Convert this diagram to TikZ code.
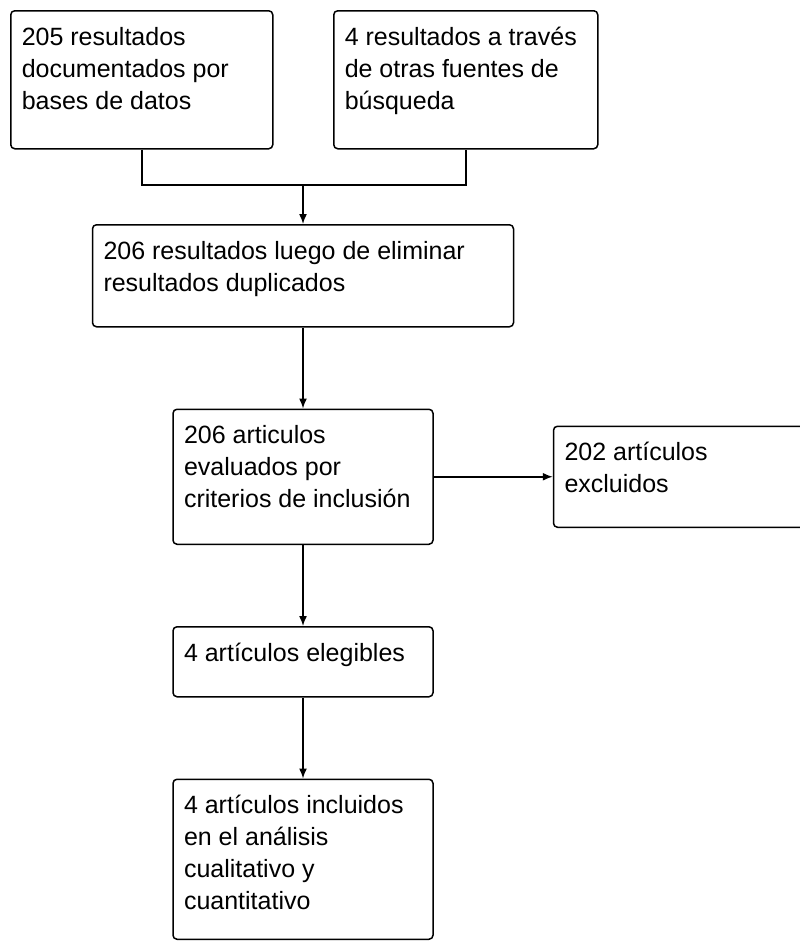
\documentclass[tikz,border=0pt]{standalone}
\usepackage{fontspec}
\setmainfont{Liberation Sans}
\usetikzlibrary{positioning,arrows.meta}

\begin{document}
\begin{tikzpicture}[x=1pt,y=1pt,
  caja/.style={draw, line width=1.5pt, rounded corners=4pt, inner xsep=11pt, inner ysep=12pt,
    font=\fontsize{25}{32}\selectfont},
  flecha/.style={line width=1.5pt, -{Latex[length=10pt,width=8pt]}},
  linea/.style={line width=1.5pt}]
\useasboundingbox (0,0) rectangle (800,-943);

\node [caja, anchor=north west] (base) at (10,-10)
  {\parbox[t][114pt][t]{240pt}{\raggedright\strut 205 resultados\\documentados por\\bases de datos}};
\node [caja, anchor=north west] (otras) at (333,-10)
  {\parbox[t][114pt][t]{242pt}{\raggedright\strut 4 resultados a través\\de otras fuentes de\\búsqueda}};
\coordinate (union) at (303,-185);
\node [caja, below = 39pt of union] (dupl)
  {\parbox[t][78pt][t]{399pt}{\raggedright\strut 206 resultados luego de eliminar\\resultados duplicados}};
\node [caja, below = 81pt of dupl] (eval)
  {\parbox[t][111pt][t]{238pt}{\raggedright\strut 206 articulos\\evaluados por\\criterios de inclusión}};
\node [caja, right = 119pt of eval] (excl)
  {\parbox[t][77pt][t]{238pt}{\raggedright\strut 202 artículos\\excluidos}};
\node [caja, below = 81pt of eval] (eleg)
  {\parbox[t][46pt][t]{238pt}{\raggedright\strut 4 artículos elegibles}};
\node [caja, below = 81pt of eleg] (incl)
  {\parbox[t][136pt][t]{238pt}{\raggedright\strut 4 artículos incluidos\\en el análisis\\cualitativo y\\cuantitativo}};

\draw [linea] (base.south) |- (union) -| (otras.south);
\draw [flecha] (union) -- (dupl.north);
\draw [flecha] (dupl) -- (eval);
\draw [flecha] (eval) -- (excl);
\draw [flecha] (eval) -- (eleg);
\draw [flecha] (eleg) -- (incl);
\end{tikzpicture}
\end{document}
